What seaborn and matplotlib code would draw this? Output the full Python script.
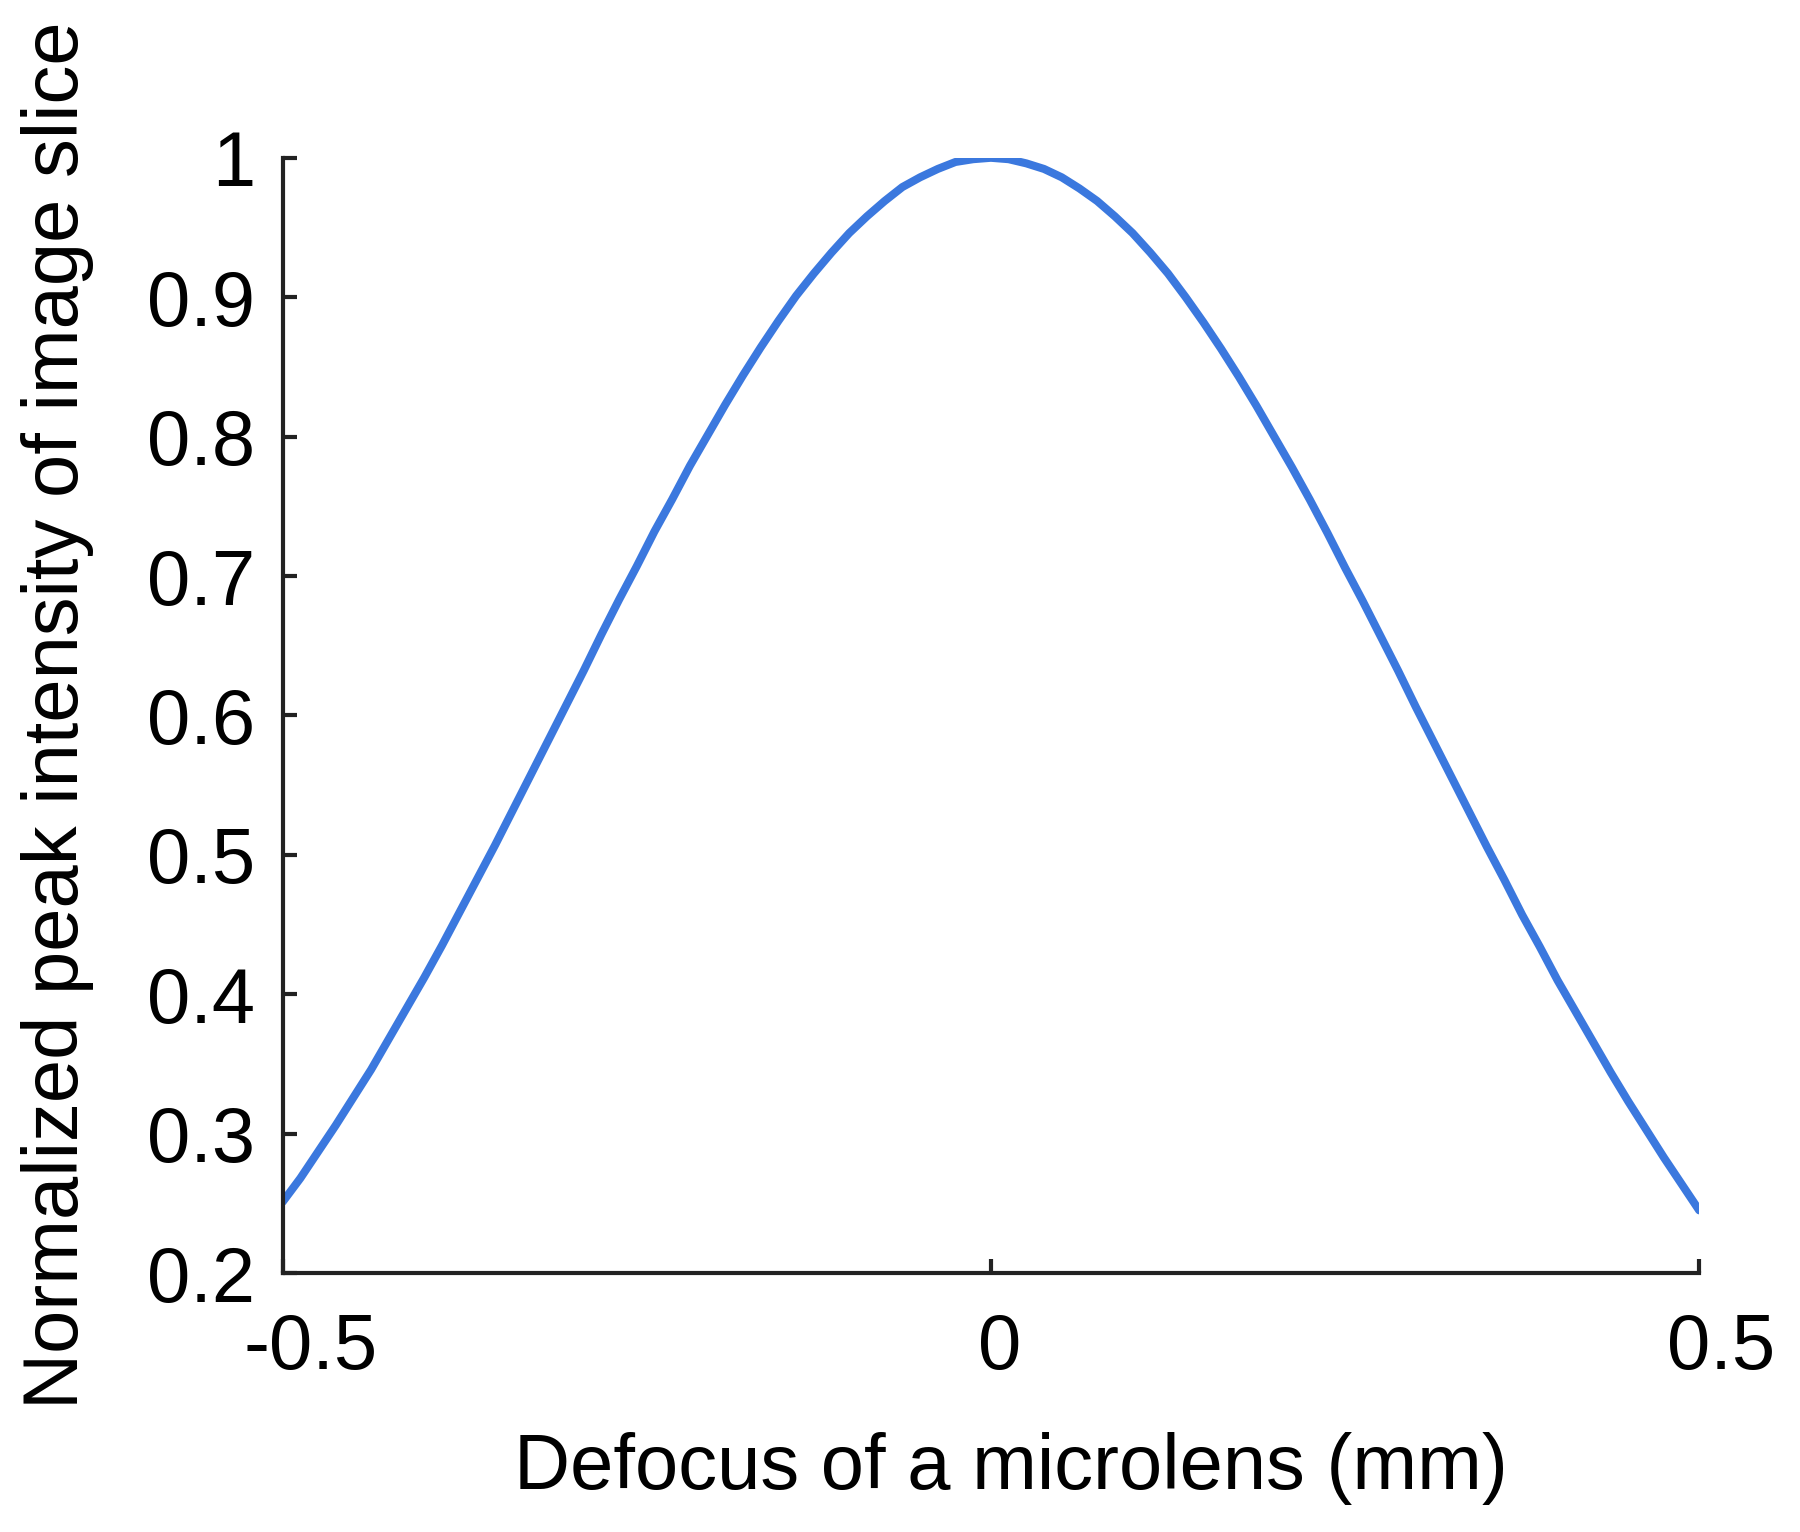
import matplotlib
matplotlib.use("Agg")
import matplotlib.pyplot as plt
from matplotlib.transforms import ScaledTranslation
import seaborn as sns
import pandas as pd

# defocus (mm) and normalized peak intensity
defocus = [-0.5000, -0.4875, -0.4750, -0.4625, -0.4500, -0.4375, -0.4250, -0.4125,
           -0.4000, -0.3875, -0.3750, -0.3625, -0.3500, -0.3375, -0.3250, -0.3125,
           -0.3000, -0.2875, -0.2750, -0.2625, -0.2500, -0.2375, -0.2250, -0.2125,
           -0.2000, -0.1875, -0.1750, -0.1625, -0.1500, -0.1375, -0.1250, -0.1125,
           -0.1000, -0.0875, -0.0750, -0.0625, -0.0500, -0.0375, -0.0250, -0.0125,
           0.0000, 0.0125, 0.0250, 0.0375, 0.0500, 0.0625, 0.0750, 0.0875,
           0.1000, 0.1125, 0.1250, 0.1375, 0.1500, 0.1625, 0.1750, 0.1875,
           0.2000, 0.2125, 0.2250, 0.2375, 0.2500, 0.2625, 0.2750, 0.2875,
           0.3000, 0.3125, 0.3250, 0.3375, 0.3500, 0.3625, 0.3750, 0.3875,
           0.4000, 0.4125, 0.4250, 0.4375, 0.4500, 0.4625, 0.4750, 0.4875,
           0.5000]
intensity = [0.251, 0.268, 0.287, 0.306, 0.326, 0.346, 0.368, 0.390,
             0.412, 0.435, 0.459, 0.483, 0.507, 0.532, 0.557, 0.582,
             0.607, 0.632, 0.658, 0.683, 0.707, 0.732, 0.755, 0.779,
             0.801, 0.823, 0.844, 0.864, 0.883, 0.901, 0.917, 0.932,
             0.946, 0.958, 0.969, 0.979, 0.986, 0.992, 0.997, 0.999,
             1.000, 0.999, 0.996, 0.992, 0.986, 0.978, 0.969, 0.958,
             0.946, 0.932, 0.917, 0.900, 0.882, 0.863, 0.843, 0.822,
             0.800, 0.778, 0.755, 0.731, 0.706, 0.682, 0.657, 0.632,
             0.606, 0.581, 0.556, 0.531, 0.506, 0.482, 0.457, 0.434,
             0.410, 0.388, 0.366, 0.344, 0.323, 0.303, 0.283, 0.264,
             0.245]
xticks = [-0.5, 0, 0.5]
xticklabels = ["-0.5", "0", "0.5"]
yticks = [0.2, 0.3, 0.4, 0.5, 0.6, 0.7, 0.8, 0.9, 1.0]
yticklabels = ["0.2", "0.3", "0.4", "0.5", "0.6", "0.7", "0.8", "0.9", "1"]

df = pd.DataFrame({"defocus": defocus, "intensity": intensity})

sns.set_style("ticks")
plt.rcParams["font.family"] = ["Liberation Sans", "DejaVu Sans"]
plt.rcParams["axes.unicode_minus"] = False

fig = plt.figure(figsize=(18, 15.32), dpi=100)
ax = fig.add_axes([0.157, 0.169, 0.787, 0.728])

sns.lineplot(data=df, x="defocus", y="intensity", color="#3b78de", linewidth=5.8, ax=ax)

ax.set_xlim(-0.5, 0.5)
ax.set_ylim(0.2, 1.0)
ax.set_xticks(xticks)
ax.set_xticklabels(xticklabels)
ax.set_yticks(yticks)
ax.set_yticklabels(yticklabels)
ax.tick_params(axis="both", direction="in", length=10, width=3.0, colors="#222222",
               labelcolor="black", labelsize=56)
ax.tick_params(axis="x", pad=28)
ax.tick_params(axis="y", pad=20)
sns.despine(ax=ax)
for s in ["left", "bottom"]:
    ax.spines[s].set_linewidth(3.0)
    ax.spines[s].set_color("#222222")

# the x tick labels sit a little right of their ticks in the reference
for lbl, dx in zip(ax.get_xticklabels(), [28, 9, 22]):
    lbl.set_transform(lbl.get_transform() + ScaledTranslation(dx / 100, 0, fig.dpi_scale_trans))

ax.set_xlabel("Defocus of a microlens (mm)", fontsize=56, labelpad=34, color="black")
ax.xaxis.label.set_x(0.514)
ax.set_ylabel("Normalized peak intensity of image slice", fontsize=56, labelpad=38, color="black")

fig.savefig("out.png", dpi=100, facecolor="white")
